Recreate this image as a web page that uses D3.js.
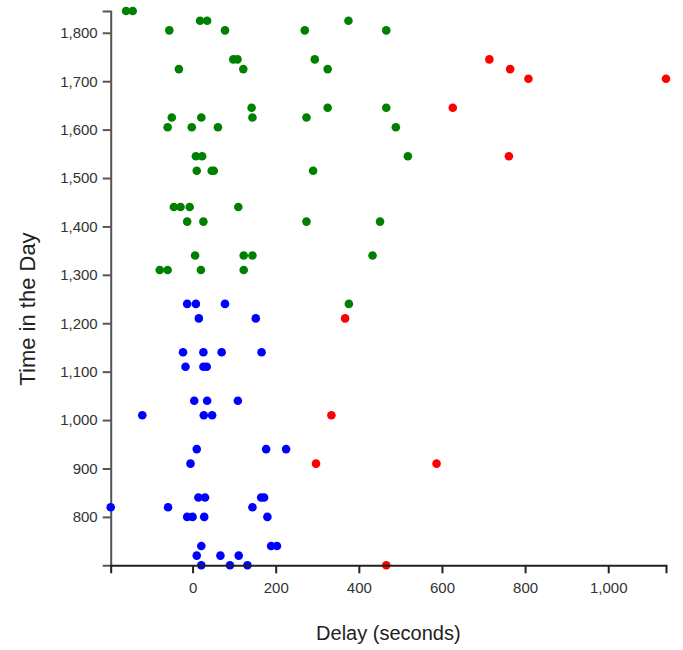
<!DOCTYPE html>
<html>
<head>
<meta charset="utf-8">
<script src="https://cdn.jsdelivr.net/npm/d3@7"></script>
<style>
  html, body { margin: 0; padding: 0; background: #fff; }
  svg { display: block; font-family: "Liberation Sans", Arial, Helvetica, sans-serif; }
</style>
</head>
<body>
<svg id="chart" width="683" height="650"></svg>
<script>
// Time of day (HHMM), delay in seconds, and colour group for each point
const times = [
  1845, 1845,
  1825, 1825, 1825,
  1805, 1805, 1805, 1805,
  1745, 1745, 1745, 1745,
  1725, 1725, 1725, 1725,
  1705, 1705,
  1645, 1645, 1645, 1645,
  1625, 1625, 1625, 1625,
  1605, 1605, 1605, 1605,
  1545, 1545, 1545, 1545,
  1515, 1515, 1515, 1515,
  1440, 1440, 1440, 1440,
  1410, 1410, 1410, 1410,
  1340, 1340, 1340, 1340,
  1310, 1310, 1310, 1310,
  1240, 1240, 1240, 1240,
  1210, 1210, 1210,
  1140, 1140, 1140, 1140,
  1110, 1110, 1110,
  1040, 1040, 1040,
  1010, 1010, 1010, 1010,
  940, 940, 940,
  910, 910, 910,
  840, 840, 840, 840,
  820, 820, 820,
  800, 800, 800, 800,
  740, 740, 740,
  720, 720, 720,
  700, 700, 700, 700
];
const delays = [
  -160, -144,
  18, 35, 375,
  -56, 78, 270, 466,
  98, 108, 294, 714,
  -33, 122, 325, 764,
  808, 1139,
  142, 325, 466, 626,
  -50, 21, 144, 274,
  -60, -2, 61, 489,
  8, 23, 518, 761,
  10, 46, 51, 290,
  -45, -29, -7, 110,
  -13, 26, 274, 451,
  6, 123, 144, 433,
  -79, -60, 20, 123,
  -13, 8, 78, 376,
  15, 152, 367,
  -23, 26, 70, 166,
  -17, 26, 34,
  4, 35, 109,
  -121, 27, 47, 334,
  10, 177, 225,
  -5, 297, 587,
  14, 30, 165, 172,
  -197, -59, 144,
  -13, 0, 28, 180,
  21, 189, 203,
  10, 67, 111,
  21, 90, 132, 466
];
const groups = [
  "pm", "pm",
  "pm", "pm", "pm",
  "pm", "pm", "pm", "pm",
  "pm", "pm", "pm", "late",
  "pm", "pm", "pm", "late",
  "late", "late",
  "pm", "pm", "pm", "late",
  "pm", "pm", "pm", "pm",
  "pm", "pm", "pm", "pm",
  "pm", "pm", "pm", "late",
  "pm", "pm", "pm", "pm",
  "pm", "pm", "pm", "pm",
  "pm", "pm", "pm", "pm",
  "pm", "pm", "pm", "pm",
  "pm", "pm", "pm", "pm",
  "am", "am", "am", "pm",
  "am", "am", "late",
  "am", "am", "am", "am",
  "am", "am", "am",
  "am", "am", "am",
  "am", "am", "am", "late",
  "am", "am", "am",
  "am", "late", "late",
  "am", "am", "am", "am",
  "am", "am", "am",
  "am", "am", "am", "am",
  "am", "am", "am",
  "am", "am", "am",
  "am", "am", "am", "late"
];
const xTicks = [0, 200, 400, 600, 800, 1000];
const yTicks = [800, 900, 1000, 1100, 1200, 1300, 1400, 1500, 1600, 1700, 1800];
const groupNames = ["am", "pm", "late"];
const groupColors = ["#0000ff", "#008000", "#ff0000"];
const xTitle = "Delay (seconds)";
const yTitle = "Time in the Day";

const points = times.map((t, i) => ({ t, d: delays[i], g: groups[i] }));

const svg = d3.select("#chart");
const mLeft = 110.7, mRight = 666, mTop = 11, mBottom = 565.3;

const x = d3.scaleLinear().domain(d3.extent(delays)).range([mLeft, mRight]);
const y = d3.scaleLinear().domain(d3.extent(times)).range([mBottom, mTop]);
const color = d3.scaleOrdinal().domain(groupNames).range(groupColors);

const fmt = d3.format(",");

// y axis
const yAxis = svg.append("g")
  .attr("transform", `translate(${mLeft},0)`)
  .call(d3.axisLeft(y).tickValues(yTicks).tickFormat(fmt).tickSize(8).tickSizeOuter(8).tickPadding(5));
yAxis.selectAll("path, line").attr("stroke", "#555").attr("stroke-width", 2);
yAxis.selectAll("text").attr("font-size", 15).attr("fill", "#333")
  .attr("font-family", '"Liberation Sans", Arial, sans-serif');

// points
svg.append("g").selectAll("circle")
  .data(points)
  .join("circle")
  .attr("cx", p => x(p.d))
  .attr("cy", p => y(p.t))
  .attr("r", 4.3)
  .attr("fill", p => color(p.g));

// x axis
const xAxis = svg.append("g")
  .attr("transform", `translate(0,${mBottom})`)
  .call(d3.axisBottom(x).tickValues(xTicks).tickFormat(fmt).tickSize(8).tickSizeOuter(8).tickPadding(9));
xAxis.selectAll("path, line").attr("stroke", "#222").attr("stroke-width", 2);
xAxis.selectAll("text").attr("font-size", 15).attr("fill", "#333")
  .attr("font-family", '"Liberation Sans", Arial, sans-serif');

// titles
svg.append("text")
  .attr("x", (mLeft + mRight) / 2)
  .attr("y", 640)
  .attr("text-anchor", "middle")
  .attr("font-size", 20)
  .attr("fill", "#222")
  .text(xTitle);

svg.append("text")
  .attr("transform", `translate(35,309) rotate(-90)`)
  .attr("text-anchor", "middle")
  .attr("font-size", 22)
  .attr("fill", "#222")
  .text(yTitle);
</script>
</body>
</html>
